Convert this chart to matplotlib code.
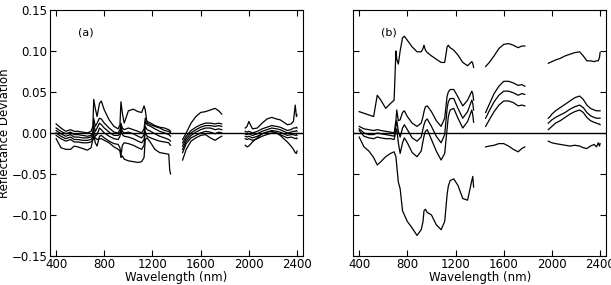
import numpy as np
import matplotlib
matplotlib.use('Agg')
import matplotlib.pyplot as plt

nan = np.nan

# wavelength grid (nm); nan entries mark the water-absorption gaps
wl = [400, 440, 480, 520, 550, 580, 620, 660, 690, 705, 712, 725, 740, 760, 775, 800, 840, 880,
      915, 930, 938, 950, 965, 1000, 1040, 1080, 1110, 1130, 1140, 1155, 1185, 1220, 1260, 1300,
      1335, 1343, 1350,
      nan,
      1450, 1480, 1520, 1560, 1600, 1640, 1680, 1720, 1750, 1775,
      nan,
      1970, 1985, 2000, 2030, 2070, 2110, 2150, 2190, 2230, 2260, 2290, 2320, 2350, 2370, 2385, 2395, 2400]

# panel (a) reflectance deviations
a1 = [0.011, 0.006, 0.002, 0.004, 0.002, 0.002, 0.001, 0.000, 0.002, 0.008, 0.041, 0.030, 0.020, 0.036,
      0.039, 0.028, 0.016, 0.008, 0.005, 0.010, 0.038, 0.024, 0.012, 0.027, 0.029, 0.026, 0.025, 0.033,
      0.028, 0.012, 0.010, 0.008, 0.006, 0.003, 0.002, 0.001, 0.000,
      nan,
      -0.008, 0.000, 0.012, 0.020, 0.025, 0.026, 0.028, 0.030, 0.027, 0.023,
      nan,
      0.006, 0.008, 0.014, 0.005, 0.006, 0.012, 0.017, 0.019, 0.017, 0.016, 0.013, 0.010, 0.011, 0.014,
      0.034, 0.020, 0.022]
a2 = [0.006, 0.002, -0.001, 0.001, -0.002, -0.002, -0.003, -0.004, -0.003, 0.000, 0.018, 0.008, 0.012,
      0.018, 0.017, 0.012, 0.006, 0.001, 0.000, 0.004, 0.012, 0.006, 0.004, 0.006, 0.004, 0.002, 0.000,
      0.005, 0.018, 0.014, 0.012, 0.009, 0.007, 0.006, 0.004, 0.003, 0.002,
      nan,
      -0.012, -0.004, 0.003, 0.007, 0.010, 0.012, 0.012, 0.011, 0.012, 0.011,
      nan,
      0.002, 0.001, 0.002, 0.000, 0.002, 0.005, 0.007, 0.009, 0.008, 0.007, 0.005, 0.003, 0.004, 0.006,
      0.006, 0.007, 0.006]
a3 = [0.003, -0.001, -0.004, -0.002, -0.005, -0.005, -0.006, -0.006, -0.005, -0.002, 0.010, 0.002, 0.006,
      0.012, 0.010, 0.006, 0.001, -0.003, -0.003, 0.000, 0.008, 0.002, 0.000, 0.001, -0.001, -0.004,
      -0.006, -0.002, 0.014, 0.010, 0.008, 0.005, 0.002, 0.000, -0.002, -0.003, -0.004,
      nan,
      -0.016, -0.007, 0.000, 0.004, 0.007, 0.009, 0.009, 0.008, 0.009, 0.008,
      nan,
      -0.001, -0.002, -0.001, -0.003, -0.001, 0.002, 0.004, 0.006, 0.005, 0.004, 0.002, 0.000, 0.001,
      0.002, 0.002, 0.003, 0.002]
a4 = [0.000, -0.004, -0.007, -0.005, -0.008, -0.008, -0.009, -0.009, -0.008, -0.005, 0.004, -0.004,
      -0.002, 0.006, 0.004, 0.000, -0.004, -0.007, -0.008, -0.004, 0.004, -0.002, -0.004, -0.005, -0.007,
      -0.010, -0.012, -0.008, 0.008, 0.004, 0.002, -0.001, -0.004, -0.006, -0.008, -0.009, -0.010,
      nan,
      -0.020, -0.010, -0.003, 0.001, 0.004, 0.006, 0.006, 0.004, 0.005, 0.004,
      nan,
      -0.004, -0.005, -0.004, -0.006, -0.004, -0.001, 0.001, 0.003, 0.002, 0.001, -0.001, -0.003, -0.002,
      -0.002, -0.003, -0.002, -0.003]
a5 = [-0.003, -0.007, -0.010, -0.008, -0.011, -0.011, -0.012, -0.012, -0.011, -0.008, -0.002, -0.012,
      -0.016, -0.004, -0.003, -0.006, -0.010, -0.013, -0.014, -0.018, -0.028, -0.015, -0.012, -0.013,
      -0.015, -0.018, -0.020, -0.015, 0.002, -0.004, -0.006, -0.008, -0.010, -0.011, -0.012, -0.014, -0.015,
      nan,
      -0.024, -0.013, -0.006, -0.003, 0.000, 0.002, 0.001, -0.001, 0.001, 0.000,
      nan,
      -0.007, -0.008, -0.007, -0.009, -0.007, -0.004, -0.002, 0.000, 0.000, -0.002, -0.004, -0.006, -0.005,
      -0.006, -0.007, -0.006, -0.007]
a6 = [-0.007, -0.018, -0.020, -0.020, -0.016, -0.017, -0.019, -0.021, -0.018, -0.008, -0.004, -0.006,
      -0.008, -0.007, -0.007, -0.009, -0.012, -0.017, -0.020, -0.022, -0.030, -0.028, -0.032, -0.034,
      -0.035, -0.036, -0.035, -0.030, -0.008, -0.006, -0.012, -0.020, -0.024, -0.025, -0.026, -0.045, -0.050,
      nan,
      -0.033, -0.020, -0.010, -0.006, -0.003, -0.002, -0.006, -0.009, -0.006, -0.004,
      nan,
      -0.015, -0.017, -0.016, -0.011, -0.006, -0.001, 0.001, 0.002, 0.000, -0.003, -0.007, -0.011, -0.016,
      -0.020, -0.024, -0.025, -0.022]

# panel (b) reflectance deviations
b1 = [0.026, 0.024, 0.022, 0.020, 0.046, 0.040, 0.030, 0.036, 0.040, 0.100, 0.090, 0.084, 0.100, 0.116,
      0.118, 0.113, 0.105, 0.099, 0.099, 0.103, 0.107, 0.101, 0.098, 0.094, 0.090, 0.086, 0.086, 0.105,
      0.107, 0.104, 0.101, 0.095, 0.086, 0.082, 0.087, 0.085, 0.080,
      nan,
      0.081, 0.086, 0.094, 0.103, 0.108, 0.109, 0.107, 0.104, 0.106, 0.106,
      nan,
      0.085, 0.086, 0.087, 0.089, 0.091, 0.094, 0.096, 0.098, 0.099, 0.094, 0.088, 0.088, 0.087, 0.088,
      0.088, 0.092, 0.098]
b2 = [0.008, 0.005, 0.004, 0.003, 0.004, 0.003, 0.002, 0.001, 0.000, 0.015, 0.028, 0.015, 0.016, 0.025,
      0.027, 0.020, 0.012, 0.008, 0.012, 0.020, 0.026, 0.032, 0.033, 0.026, 0.015, 0.008, 0.018, 0.045,
      0.050, 0.053, 0.053, 0.044, 0.033, 0.040, 0.051, 0.048, 0.040,
      nan,
      0.025, 0.035, 0.048, 0.057, 0.063, 0.063, 0.061, 0.058, 0.059, 0.057,
      nan,
      0.018, 0.020, 0.023, 0.027, 0.031, 0.035, 0.039, 0.043, 0.045, 0.041, 0.034, 0.030, 0.028, 0.027,
      0.027, 0.027, 0.027]
b3 = [0.005, 0.000, -0.002, -0.002, 0.000, -0.001, -0.002, -0.003, -0.004, 0.008, 0.015, 0.002, -0.005,
      0.006, 0.010, 0.004, -0.006, -0.010, -0.005, 0.005, 0.010, 0.015, 0.017, 0.008, -0.004, -0.012,
      -0.002, 0.030, 0.038, 0.042, 0.042, 0.030, 0.018, 0.026, 0.040, 0.036, 0.028,
      nan,
      0.018, 0.027, 0.038, 0.046, 0.051, 0.051, 0.049, 0.046, 0.048, 0.047,
      nan,
      0.012, 0.014, 0.016, 0.019, 0.022, 0.025, 0.029, 0.032, 0.034, 0.031, 0.025, 0.021, 0.019, 0.018,
      0.018, 0.018, 0.018]
b4 = [0.003, -0.004, -0.006, -0.007, -0.005, -0.006, -0.007, -0.007, -0.008, 0.002, 0.005, -0.012,
      -0.025, -0.012, -0.006, -0.012, -0.024, -0.029, -0.022, -0.010, -0.004, 0.002, 0.004, -0.008,
      -0.022, -0.033, -0.025, 0.005, 0.020, 0.028, 0.030, 0.018, 0.006, 0.014, 0.028, 0.022, 0.013,
      nan,
      0.008, 0.016, 0.026, 0.034, 0.039, 0.039, 0.037, 0.033, 0.034, 0.033,
      nan,
      0.004, 0.006, 0.008, 0.012, 0.015, 0.019, 0.023, 0.026, 0.028, 0.025, 0.019, 0.015, 0.013, 0.012,
      0.011, 0.011, 0.010]
b5 = [-0.005, -0.017, -0.022, -0.030, -0.039, -0.035, -0.029, -0.025, -0.023, -0.029, -0.040, -0.060,
      -0.068, -0.095, -0.100, -0.108, -0.116, -0.125, -0.118, -0.108, -0.095, -0.093, -0.097, -0.100,
      -0.112, -0.118, -0.108, -0.075, -0.065, -0.058, -0.056, -0.064, -0.080, -0.082, -0.058, -0.053, -0.066,
      nan,
      -0.017, -0.016, -0.015, -0.013, -0.013, -0.016, -0.020, -0.023, -0.019, -0.017,
      nan,
      -0.010, -0.011, -0.012, -0.013, -0.014, -0.015, -0.016, -0.015, -0.016, -0.018, -0.019, -0.016,
      -0.014, -0.017, -0.012, -0.016, -0.013]

panels = [('(a)', [a1, a2, a3, a4, a5, a6]), ('(b)', [b1, b2, b3, b4, b5])]

plt.rcParams['font.size'] = 8.5

fig = plt.figure(figsize=(6.11, 2.85), dpi=100)
ax_a = fig.add_axes([0.082, 0.102, 0.414, 0.863])
ax_b = fig.add_axes([0.578, 0.102, 0.414, 0.863])

for ax, (tag, curves) in zip([ax_a, ax_b], panels):
    for c in curves:
        ax.plot(wl, c, color='black', lw=0.9)
    ax.axhline(0, color='black', lw=1.0)
    ax.set_xlim(350, 2450)
    ax.set_ylim(-0.15, 0.15)
    ax.set_xticks([400, 800, 1200, 1600, 2000, 2400])
    ax.set_yticks([-0.15, -0.10, -0.05, 0.00, 0.05, 0.10, 0.15])
    ax.tick_params(direction='in', top=True, right=True, length=4, pad=2)
    ax.tick_params(axis='x', pad=1.5)
    ax.set_xlabel('Wavelength (nm)', labelpad=0)
    ax.text(650, 0.122, tag, fontsize=8, ha='center', va='center')

ax_a.set_yticklabels(['\u22120.15', '\u22120.10', '\u22120.05', '0.00', '0.05', '0.10', '0.15'])
ax_b.set_yticklabels([])
ax_a.set_ylabel('Reflectance Deviation', labelpad=0)

fig.savefig('out.png', dpi=100)
